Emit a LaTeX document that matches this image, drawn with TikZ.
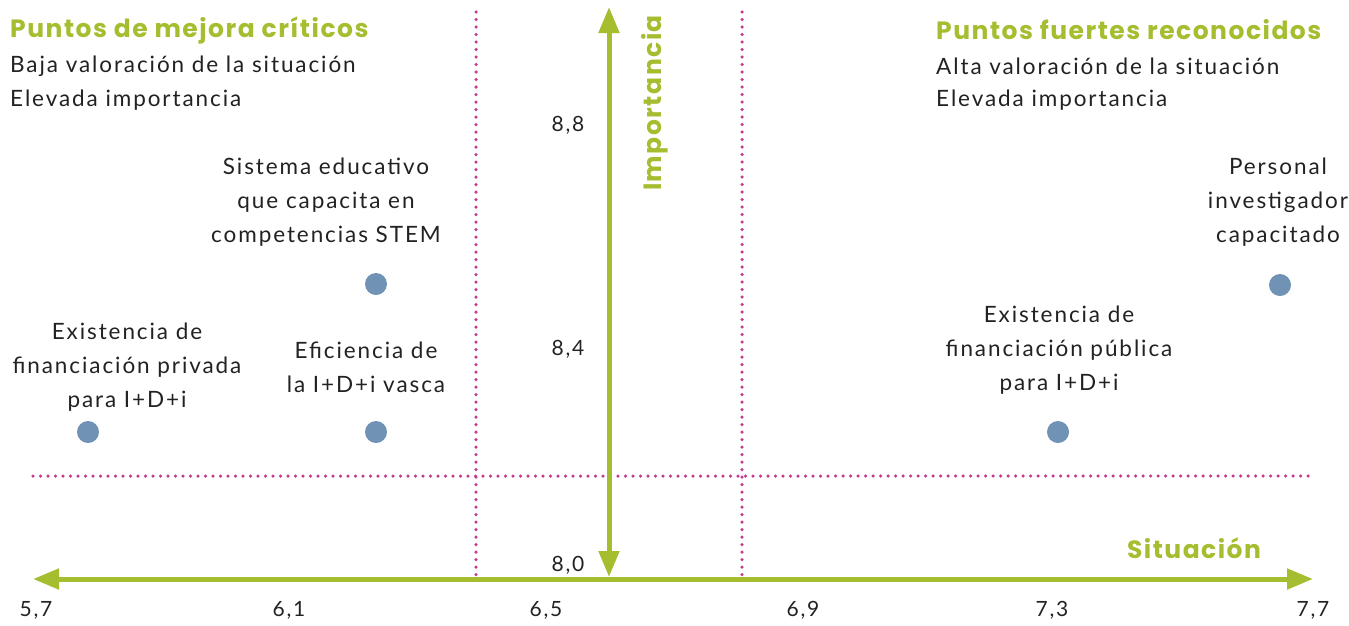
\documentclass[tikz,border=0pt]{standalone}
\usepackage{fontspec}
\setmainfont{Lato}[LetterSpace=8.5]
\newfontfamily\headfont{Poppins}[LetterSpace=6]
\usetikzlibrary{arrows.meta}
\definecolor{axgreen}{HTML}{A4BE2F}
\definecolor{dotmag}{HTML}{C43B8E}
\definecolor{ptblue}{HTML}{7092B5}
\definecolor{txt}{HTML}{222222}
\tikzset{
  axis/.style={draw=axgreen, line width=5pt, {Triangle[length=26pt,width=20pt]}-{Triangle[length=26pt,width=20pt]}},
  guide/.style={draw=dotmag, line width=3.5pt, line cap=round, dash pattern=on 0pt off 7.5pt},
  pt/.style={circle, fill=ptblue, minimum size=22pt, inner sep=0pt},
  lbl/.style={text=txt, font=\fontsize{22.5}{34}\selectfont, align=center, inner sep=0pt},
  tick/.style={text=txt, font=\fontsize{21}{25}\selectfont, inner sep=0pt},
  greenhead/.style={text=axgreen, font=\headfont\bfseries\fontsize{25}{30}\selectfont, inner sep=0pt},
  head/.style={greenhead, anchor=west},
  sub/.style={text=txt, font=\fontsize{22.5}{26}\selectfont, inner sep=0pt, anchor=west},
}
\begin{document}
\begin{tikzpicture}[x=1pt,y=-1pt]
\useasboundingbox (0,0) rectangle (1349,625);
% guides
\coordinate (g1t) at (476,12); \coordinate (g1b) at (476,578);
\coordinate (g2t) at (742,12); \coordinate (g2b) at (742,578);
\coordinate (g3l) at (33,476); \coordinate (g3r) at (1313,476);
\draw[guide] (g1t) -- (g1b);
\draw[guide] (g2t) -- (g2b);
\draw[guide] (g3l) -- (g3r);
% axes
\coordinate (xl) at (33,579); \coordinate (xr) at (1313,579);
\coordinate (yt) at (609,7); \coordinate (yb) at (609,577);
\draw[axis] (xl) -- (xr);
\draw[axis] (yb) -- (yt);
% axis titles
\node[greenhead, rotate=90] (imp) at (655,103) {Importancia};
\node[greenhead] (sit) at (1194,548) {Situación};
% ticks
\node[tick] (t57) at (36,610) {5,7};
\node[tick] (t61) at (289,610) {6,1};
\node[tick] (t65) at (546,610) {6,5};
\node[tick] (t69) at (803,610) {6,9};
\node[tick] (t73) at (1052,610) {7,3};
\node[tick] (t77) at (1313,610) {7,7};
\node[tick] (v88) at (568,125) {8,8};
\node[tick] (v84) at (568,349) {8,4};
\node[tick] (v80) at (568,565) {8,0};
% headings
\node[head] (hl) at (10,30) {Puntos de mejora críticos};
\node[sub] (hl1) at (10,66) {Baja valoración de la situación};
\node[sub] (hl2) at (10,100) {Elevada importancia};
\node[head] (hr) at (936,30) {Puntos fuertes reconocidos};
\node[sub] (hr1) at (936,66) {Alta valoración de la situación};
\node[sub] (hr2) at (936,100) {Elevada importancia};
% points
\node[pt] (p1) at (88,432) {};
\node[pt] (p2) at (376,432) {};
\node[pt] (p3) at (376,284) {};
\node[pt] (p4) at (1058,432) {};
\node[pt] (p5) at (1280,285) {};
% labels
\node[lbl] (l3) at (326,202) {Sistema educativo\\que capacita en\\competencias STEM};
\node[lbl] (l1) at (127,367) {Existencia de\\financiación privada\\para I+D+i};
\node[lbl] (l2) at (366,367) {Eficiencia de\\la I+D+i vasca};
\node[lbl] (l4) at (1059,350) {Existencia de\\financiación pública\\para I+D+i};
\node[lbl] (l5) at (1278,202) {Personal\\investigador\\capacitado};
\end{tikzpicture}
\end{document}
